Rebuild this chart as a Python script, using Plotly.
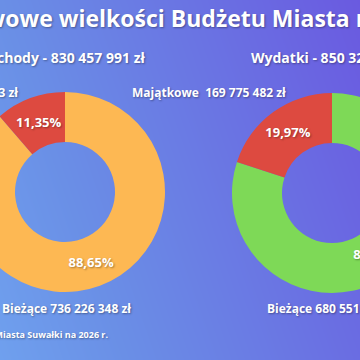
import numpy as np
import plotly.graph_objects as go

# ---------------- data ----------------
title_text = "Podstawowe wielkości Budżetu Miasta na 2026 r."
footer_text = "Źródło: Projekt Budżetu Miasta Suwałki na 2026 r."

income_labels = ["Bieżące", "Majątkowe"]
income_values = [736226348, 94231643]
income_colors = ["#FDB853", "#DD4A40"]

spend_labels = ["Bieżące", "Majątkowe"]
spend_values = [680551509, 169775482]
spend_colors = ["#7ED957", "#DD4A40"]

income_title = "Dochody"
spend_title = "Wydatki"


def pln(v):
    return f"{v:,}".replace(",", " ") + " zł"


# ---------------- geometry (window px -> paper) ----------------
FW, FH = 600, 360
OFF = 101  # window x = paper_px - OFF


def px(wx):
    return (wx + OFF) / FW


def py(wy):
    return 1 - wy / FH


fig = go.Figure()

# background gradient (decoration)
gx = np.linspace(0, 1, 61)
gy = np.linspace(0, 1, 37)
WX = gx * FW - OFF
WY = (1 - gy) * FH
Z = (WX[None, :] / 360.0) - 0.35 * (WY[:, None] / 360.0)
fig.add_trace(go.Heatmap(
    x=gx, y=gy, z=Z, zsmooth="best", showscale=False, hoverinfo="skip",
    zmin=-0.7, zmax=1.4,
    colorscale=[[0.0, "#76b2f5"], [0.1667, "#6fa0ee"], [0.3333, "#6a8fe6"],
                [0.8095, "#6a5ae0"], [1.0, "#6a4fdb"]],
))

pct_font = dict(family="Open Sans", size=13, color="white",
                weight="bold", shadow="1px 1px 2px rgba(0,0,0,0.35)")

for labels, values, colors, cx, cy in [
    (income_labels, income_values, income_colors, 65, 192),
    (spend_labels, spend_values, spend_colors, 332, 193),
]:
    R = 100
    fig.add_trace(go.Pie(
        labels=labels, values=values, hole=0.5, sort=False,
        direction="clockwise", rotation=0,
        marker=dict(colors=colors, line=dict(width=0)),
        texttemplate="%{percent:.2%}", textposition="inside",
        insidetextorientation="horizontal", textfont=pct_font,
        domain=dict(x=[px(cx - R), px(cx + R)], y=[py(cy + R), py(cy - R)]),
        showlegend=False, hoverinfo="label+value+percent",
    ))

shadow = "1px 1px 2px rgba(0,0,0,0.35)"


def ann(text, wx, wy, size, xanchor="center"):
    fig.add_annotation(
        text=text, x=px(wx), y=py(wy), xref="paper", yref="paper",
        xanchor=xanchor, yanchor="middle", showarrow=False,
        font=dict(family="Open Sans", size=size, color="white",
                  weight="bold", shadow=shadow),
    )


ann(title_text, 186, 18, 23)
ann(f"{income_title} - {pln(sum(income_values))}", 61, 57, 14)
ann(f"{spend_title} - {pln(sum(spend_values))}", 333, 57, 14)
ann(f"{income_labels[1]}  {pln(income_values[1])}", 20, 93, 12, "right")
ann(f"{spend_labels[1]}  {pln(spend_values[1])}", 288, 93, 12, "right")
ann(f"{income_labels[0]} {pln(income_values[0])}", 0, 308, 12, "left")
ann(f"{spend_labels[0]} {pln(spend_values[0])}", 265, 308, 12, "left")
ann(footer_text, 110, 334, 9, "right")

fig.update_layout(
    width=FW, height=FH, margin=dict(l=0, r=0, t=0, b=0),
    separators=", ",
    paper_bgcolor="#6a78e6", plot_bgcolor="#6a78e6",
    xaxis=dict(range=[0, 1], visible=False, domain=[0, 1], fixedrange=True),
    yaxis=dict(range=[0, 1], visible=False, domain=[0, 1], fixedrange=True),
)

post = ("var d=document.getElementById('{plot_id}');"
        "document.body.style.margin='0';"
        "document.body.style.overflow='hidden';"
        "d.style.marginLeft='-%dpx';" % OFF)
fig.write_html("out.html", post_script=post)
